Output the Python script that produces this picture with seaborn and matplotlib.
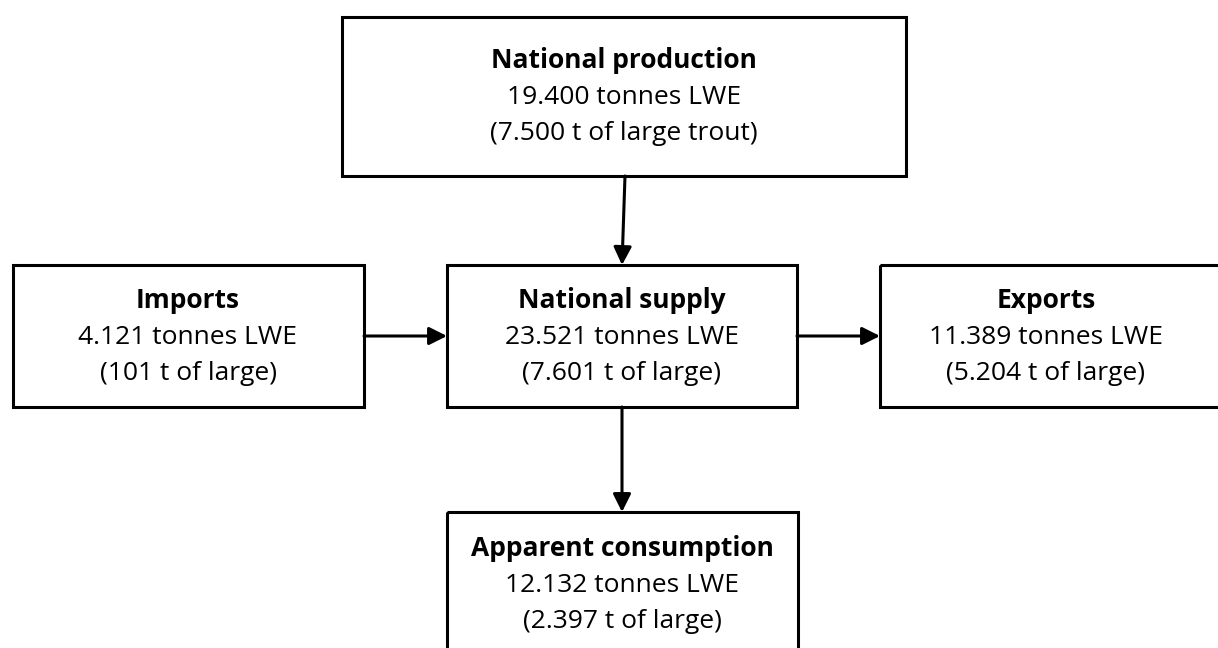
import matplotlib
matplotlib.use("Agg")
import matplotlib.pyplot as plt
from matplotlib.patches import Rectangle
import seaborn as sns

# Data
titles = ["National production", "Imports", "National supply", "Exports", "Apparent consumption"]
tonnes_lwe = ["19.400", "4.121", "23.521", "11.389", "12.132"]
large_t = ["7.500", "101", "7.601", "5.204", "2.397"]
large_suffix = ["large trout", "large", "large", "large", "large"]

sns.set_theme(style="white")
plt.rcParams['font.family'] = ['Open Sans', 'DejaVu Sans']

W, H = 1218, 648
fig = plt.figure(figsize=(W / 100, H / 100), dpi=100)
ax = fig.add_axes([0, 0, 1, 1])
ax.set_xlim(0, W)
ax.set_ylim(H, 0)
ax.axis("off")

# box geometry: (x0, y0, x1, y1, text-centre-x, title-y)
boxes = [
    (342, 17, 906, 176, 624, 61),
    (13, 265, 364, 407, 188, 301),
    (447, 265, 797, 407, 622, 301),
    (880, 265, 1230, 407, 1046, 301),
    (447, 512, 798, 660, 622, 549),
]

lw = 2.2
fs = 19
for (x0, y0, x1, y1, cx, ty), t, v, l, s in zip(boxes, titles, tonnes_lwe, large_t, large_suffix):
    ax.add_patch(Rectangle((x0, y0), x1 - x0, y1 - y0, fill=False,
                           edgecolor="black", linewidth=lw, clip_on=True))
    ax.text(cx, ty, t, ha="center", va="center", fontsize=fs, fontweight="bold", color="black")
    ax.text(cx, ty + 37, f"{v} tonnes LWE", ha="center", va="center", fontsize=fs, color="black")
    ax.text(cx, ty + 72, f"({l} t of {s})", ha="center", va="center", fontsize=fs, color="black")

arrow_kw = dict(arrowstyle="-|>,head_length=0.9,head_width=0.45", color="black",
                linewidth=lw, shrinkA=0, shrinkB=0)
arrows = [
    ((625, 176), (622, 265)),
    ((364, 336), (447, 336)),
    ((797, 336), (880, 336)),
    ((622, 407), (622, 512)),
]
for start, end in arrows:
    ax.annotate("", xy=end, xytext=start, arrowprops=arrow_kw)

fig.savefig("out.png", dpi=100, facecolor="white")
